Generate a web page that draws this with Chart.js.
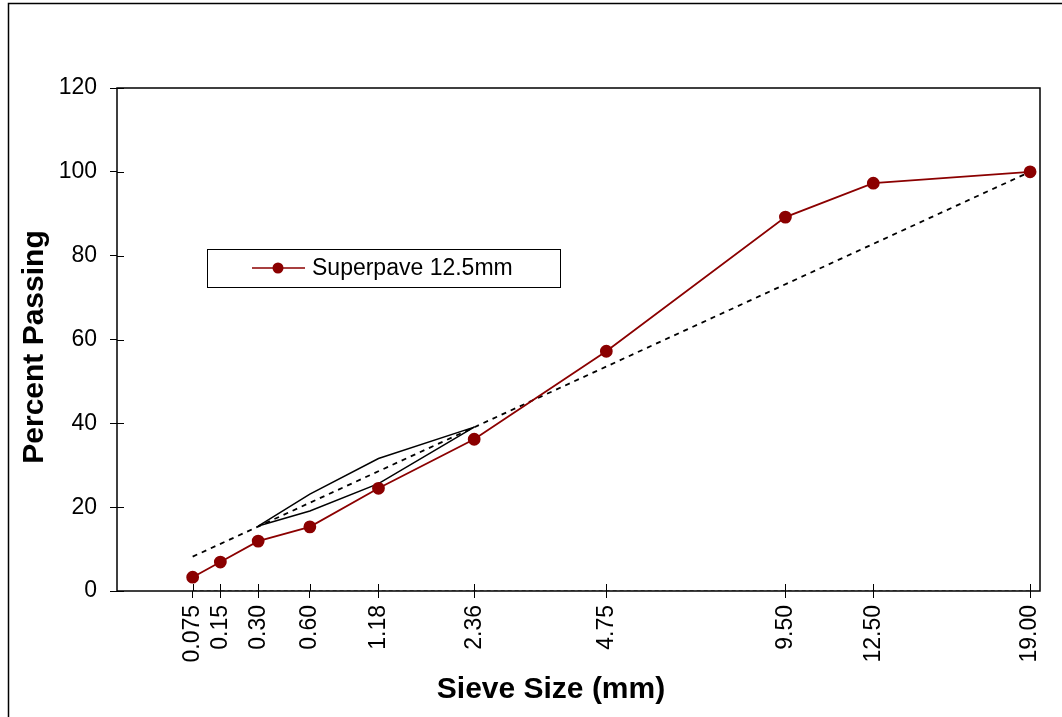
<!DOCTYPE html>
<html>
<head>
<meta charset="utf-8">
<script src="https://cdn.jsdelivr.net/npm/chart.js@4"></script>
<style>
    body { margin: 0; background: #fff; }
    #wrap { width: 1062px; height: 717px; position: relative; }
</style>
</head>
<body>
<div id="wrap"><canvas id="grading"></canvas></div>
<script>
// sieve sizes in mm, plotted on a 0.45 power scale
const POWER = 0.45;
const sieveSizes = [0.075, 0.15, 0.30, 0.60, 1.18, 2.36, 4.75, 9.50, 12.50, 19.00];
const sieveLabels = ["0.075", "0.15", "0.30", "0.60", "1.18", "2.36", "4.75", "9.50", "12.50", "19.00"];
const percentPassing = [3.3, 6.9, 11.9, 15.3, 24.5, 36.2, 57.2, 89.2, 97.3, 100];

// maximum density line (straight on this scale)
const maxDensitySizes = [0.075, 19.00];
const maxDensityPassing = [8.2, 100];

// restricted zone
const zoneSizes = [0.30, 0.60, 1.18, 2.36];
const zoneUpper = [15.5, 23.1, 31.6, 39.1];
const zoneLower = [15.5, 19.1, 25.6, 39.1];

const baseSizes = [0.075, 19.00];
const baseValues = [0, 0];

const yTicks = [0, 20, 40, 60, 80, 100, 120];

const FONT = "'Liberation Sans', Arial, sans-serif";

function pts(sizes, values) {
    return sizes.map((s, i) => ({ x: Math.pow(s, POWER), y: values[i] }));
}

const frame = {
    id: "frame",
    afterDraw(chart) {
        const ctx = chart.ctx;
        const a = chart.chartArea;
        const xs = chart.scales.x;
        const ys = chart.scales.y;
        ctx.save();
        ctx.strokeStyle = "#000";
        // outer border
        ctx.lineWidth = 1.5;
        ctx.strokeRect(8.5, 3.5, 2000, 2000);
        // plot box
        ctx.strokeRect(a.left, a.top, a.right - a.left, a.bottom - a.top);
        // inner halves of the tick marks
        ctx.lineWidth = 1;
        ctx.beginPath();
        yTicks.forEach((v) => {
            const py = Math.round(ys.getPixelForValue(v)) + 0.5;
            ctx.moveTo(a.left, py);
            ctx.lineTo(a.left + 7, py);
        });
        sieveSizes.forEach((s) => {
            const px = Math.round(xs.getPixelForValue(Math.pow(s, POWER))) + 0.5;
            ctx.moveTo(px, a.bottom);
            ctx.lineTo(px, a.bottom - 7);
        });
        ctx.stroke();

        // axis titles
        ctx.fillStyle = "#000";
        ctx.font = "bold 30px " + FONT;
        ctx.textAlign = "center";
        ctx.textBaseline = "middle";
        ctx.fillText("Sieve Size (mm)", 551, 690);
        ctx.translate(35, 347);
        ctx.rotate(-Math.PI / 2);
        ctx.fillText("Percent Passing", 0, 0);
        ctx.setTransform(1, 0, 0, 1, 0, 0);
        ctx.restore();

        // legend
        const ds = chart.data.datasets[0];
        ctx.save();
        ctx.strokeStyle = "#000";
        ctx.lineWidth = 1;
        ctx.strokeRect(207.5, 249.5, 353, 38);
        ctx.strokeStyle = ds.borderColor;
        ctx.lineWidth = 1.5;
        ctx.beginPath();
        ctx.moveTo(252, 268);
        ctx.lineTo(305, 268);
        ctx.stroke();
        ctx.fillStyle = ds.backgroundColor;
        ctx.beginPath();
        ctx.arc(278, 268, 5.5, 0, Math.PI * 2);
        ctx.fill();
        ctx.fillStyle = "#000";
        ctx.font = "23px " + FONT;
        ctx.textAlign = "left";
        ctx.textBaseline = "middle";
        ctx.fillText(ds.label, 312, 269);
        ctx.restore();
    },
};

var ctx = document.getElementById("grading").getContext("2d");
var myChart = new Chart(ctx, {
    type: "scatter",
    data: {
        datasets: [
            {
                label: "Superpave 12.5mm",
                data: pts(sieveSizes, percentPassing),
                showLine: true,
                borderColor: "#8B0000",
                backgroundColor: "#8B0000",
                borderWidth: 1.8,
                pointRadius: 5.5,
                pointHoverRadius: 5.5,
                order: 0,
            },
            {
                label: "Maximum Density",
                data: pts(maxDensitySizes, maxDensityPassing),
                showLine: true,
                borderColor: "#000",
                borderWidth: 1.8,
                borderDash: [5, 5],
                pointRadius: 0,
                order: 2,
            },
            {
                label: "Restricted Zone Upper",
                data: pts(zoneSizes, zoneUpper),
                showLine: true,
                borderColor: "#000",
                borderWidth: 1.5,
                pointRadius: 0,
                order: 1,
            },
            {
                label: "Restricted Zone Lower",
                data: pts(zoneSizes, zoneLower),
                showLine: true,
                borderColor: "#000",
                borderWidth: 1.5,
                pointRadius: 0,
                order: 1,
            },
            {
                label: "Base",
                data: pts(baseSizes, baseValues),
                showLine: true,
                borderColor: "#666",
                borderWidth: 1.5,
                borderDash: [4, 3],
                pointRadius: 0,
                order: 3,
            },
        ],
    },
    options: {
        responsive: true,
        maintainAspectRatio: false,
        animation: false,
        layout: {
            padding: { left: 0, top: 88, right: 22, bottom: 0 },
        },
        scales: {
            x: {
                type: "linear",
                min: 0,
                max: 3.803,
                afterBuildTicks: (scale) => {
                    scale.ticks = sieveSizes.map((s) => ({ value: Math.pow(s, POWER) }));
                },
                afterFit: (scale) => {
                    scale.height = 126;
                    scale.paddingLeft = 0;
                    scale.paddingRight = 0;
                },
                ticks: {
                    autoSkip: false,
                    minRotation: 90,
                    maxRotation: 90,
                    padding: 7,
                    color: "#000",
                    font: { family: FONT, size: 23 },
                    callback: (value, index) => sieveLabels[index],
                },
                grid: {
                    display: true,
                    drawOnChartArea: false,
                    tickLength: 7,
                    color: "#000",
                },
                border: { display: false },
            },
            y: {
                min: 0,
                max: 120,
                afterBuildTicks: (scale) => {
                    scale.ticks = yTicks.map((v) => ({ value: v }));
                },
                afterFit: (scale) => {
                    scale.width = 117;
                    scale.paddingTop = 0;
                    scale.paddingBottom = 0;
                },
                ticks: {
                    padding: 13,
                    color: "#000",
                    font: { family: FONT, size: 23 },
                },
                grid: {
                    display: true,
                    drawOnChartArea: false,
                    tickLength: 7,
                    color: "#000",
                },
                border: { display: false },
            },
        },
        plugins: {
            legend: { display: false },
            tooltip: { enabled: false },
        },
    },
    plugins: [frame],
});
</script>
</body>
</html>
